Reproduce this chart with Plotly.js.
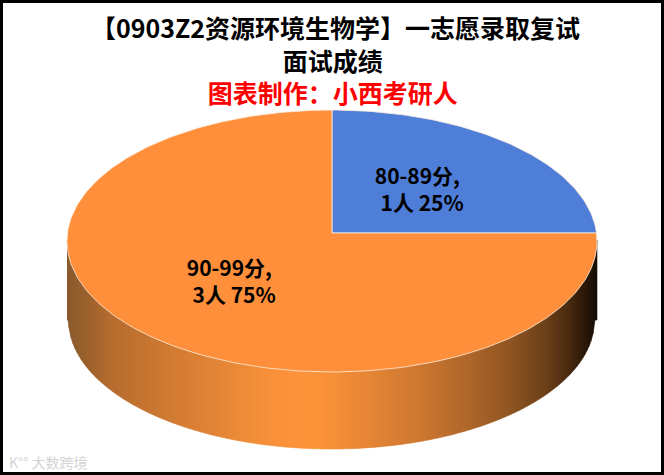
<!DOCTYPE html>
<html>
<head>
<meta charset="utf-8">
<script src="https://cdn.plot.ly/plotly-3.0.1.min.js"></script>
<style>html,body{margin:0;padding:0;background:#fff;overflow:hidden}</style>
</head>
<body>
<div id="chart" style="width:664px;height:475px"></div>
<script>
var categories = ['80-89分', '90-99分'];
var counts = [1, 3];
var percents = [25, 75];
var sliceColors = ['#4f7ed8', '#ff8f3a'];
var titleLines = ['【0903Z2资源环境生物学】一志愿录取复试', '面试成绩'];
var subtitle = '图表制作\uFF1A小西考研人';
var watermark = 'K°° 大数跨境';

var FONT = '"Noto Sans CJK SC","Noto Sans",sans-serif';
var W = 664, H = 475;
// Perspective disc geometry, in page pixels
var CX = 332, CY = 233, RX = 265, A = 130.5, K = 0.0611;
function rim(f) {
  var t = 2 * Math.PI * f, X = Math.sin(t), Z = -Math.cos(t), d = 1 - K * Z;
  return [CX + RX * X / d / 1.0019, CY + A * Z / d];
}
var traces = [];

// Side wall: strips shaded left to right
var wallStops = [[67,'#8a5a2e'],[85,'#99602c'],[110,'#b56c2e'],[160,'#cc7831'],[220,'#e58637'],[280,'#fb9239'],[320,'#fd9339'],
                 [370,'#e58535'],[420,'#cc7730'],[470,'#ae6629'],[510,'#8f5522'],[545,'#6d4019'],[570,'#47290f'],[585,'#2a1808'],[597,'#150c04']];
function hex(c){return [1,3,5].map(function(i){return parseInt(c.substr(i,2),16);});}
function wallColor(x){
  for (var i=0;i<wallStops.length-1;i++){
    var a=wallStops[i], b=wallStops[i+1];
    if (x<=b[0]){
      var t=Math.max(0,(x-a[0])/(b[0]-a[0])), ca=hex(a[1]), cb=hex(b[1]);
      return 'rgb('+ca.map(function(v,j){return Math.round(v+(cb[j]-v)*t);}).join(',')+')';
    }
  }
  return wallStops[wallStops.length-1][1];
}
function topY(x){var u=(x-332)/265;return 241+131*Math.sqrt(Math.max(0,1-u*u));}
function botY(x){var u=(x-331.5)/263;return 320+129*Math.sqrt(Math.max(0,1-u*u));}
var STEP = 2;
for (var sx=67; sx<597; sx+=STEP){
  var x1=Math.min(sx+STEP,597), xs=[], ys=[], n;
  for (n=0;n<=2;n++){var px=sx+(x1-sx)*n/2; xs.push(px); ys.push(topY(px)-1);}
  for (n=2;n>=0;n--){var qx=sx+(x1-sx)*n/2; xs.push(qx); ys.push(botY(qx));}
  traces.push({type:'scatter',mode:'lines',x:xs,y:ys,fill:'toself',fillcolor:wallColor((sx+x1)/2),
    line:{width:0.6,color:wallColor((sx+x1)/2)},hoverinfo:'skip',showlegend:false});
}

// Top face slices from the values
var total = counts.reduce(function(a,b){return a+b;},0), cum = 0;
counts.forEach(function(v,i){
  var from=cum/total, to=(cum+v)/total, xs=[CX], ys=[CY], steps=Math.ceil(360*(to-from));
  for (var s=0;s<=steps;s++){var p=rim(from+(to-from)*s/steps); xs.push(p[0]); ys.push(p[1]);}
  xs.push(CX); ys.push(CY);
  cum+=v;
  traces.push({type:'scatter',mode:'lines',name:categories[i],x:xs,y:ys,fill:'toself',fillcolor:sliceColors[i],
    line:{width:0.8,color:'#fdeedd'},hoverinfo:'skip',showlegend:false});
});

function txt(x,y,t,size,color){
  return {xref:'x',yref:'y',x:x,y:y,text:t,showarrow:false,xanchor:'center',yanchor:'middle',align:'center',
          font:{family:FONT,size:size,color:color}};
}
var NB = '\u00A0';
function label(i){return '<b>'+categories[i]+',<br>'+NB+NB+counts[i]+'人 '+percents[i]+'%</b>';}
var heading = '<b>'+titleLines[0]+'</b><br><b>'+titleLines[1]+NB+'</b><br><b><span style="color:#f00">'+subtitle+NB+'</span></b>';
var annotations = [
  txt(335,59,heading,25,'#000'),
  txt(417,188,label(0),21,'#000'),
  txt(229,280,label(1),21,'#000'),
  txt(48,462,watermark,14,'#d4d4d4')
];

Plotly.newPlot('chart', traces, {
  width:W, height:H, margin:{l:0,r:0,t:0,b:0,pad:0},
  paper_bgcolor:'#fff', plot_bgcolor:'#fff', showlegend:false,
  xaxis:{range:[0,W],visible:false,fixedrange:true},
  yaxis:{range:[H,0],visible:false,fixedrange:true},
  annotations:annotations,
  shapes:[{type:'rect',xref:'paper',yref:'paper',x0:0,x1:1,y0:0,y1:1,line:{color:'#000',width:6},fillcolor:'rgba(0,0,0,0)'}]
},{displayModeBar:false,staticPlot:true});
</script>
</body>
</html>
